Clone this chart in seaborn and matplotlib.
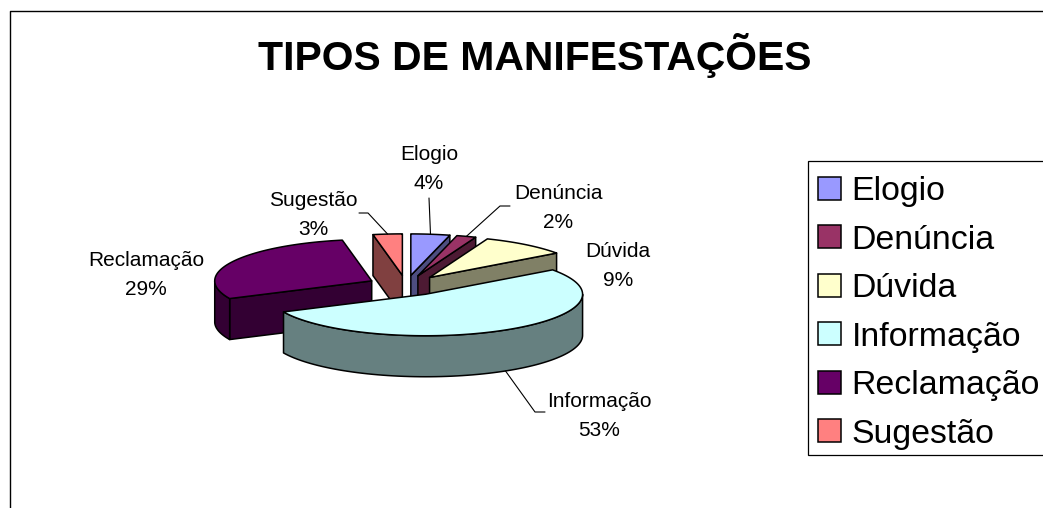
import numpy as np
import matplotlib
matplotlib.use('Agg')
import matplotlib.pyplot as plt
from matplotlib.patches import Patch, Rectangle
import seaborn as sns

# dados do grafico
categorias = ['Elogio', 'Denúncia', 'Dúvida', 'Informação', 'Reclamação', 'Sugestão']
valores = [4, 2, 9, 53, 29, 3]
cores = ['#9999FF', '#993366', '#FFFFCC', '#CCFFFF', '#660066', '#FF8080']
titulo = 'TIPOS DE MANIFESTAÇÕES'

sns.set_theme(style='white')
plt.rcParams['font.family'] = ['Liberation Sans', 'DejaVu Sans']
paleta = sns.color_palette(cores)
sombra = [tuple(c * 0.5 for c in cor) for cor in paleta]

# geometria da pizza em perspectiva (pixels da figura)
cx, cy = 406, 285.5
rx, ry = 157, 41.5
prof = 41
expl = 0.245

# posicao dos rotulos (centro de cada bloco de texto) e inicio da linha guia
pos_rotulo = [(429, 169), (558, 208), (618, 266), (599, 416), (146, 275), (313, 215)]
guia_ini = [(429, 198), (510, 206), None, (545, 412), None, (359, 213)]
guia_cot = [None, (500, 206), None, (535, 412), None, (368, 213)]

fig = plt.figure(figsize=(10.43, 5.08), dpi=100)
ax = fig.add_axes([0, 0, 1, 1])
ax.set_xlim(0, 1043)
ax.set_ylim(508, 0)
ax.axis('off')

# moldura
ax.plot([9.5, 9.5, 1043], [508, 10.5, 10.5], color='black', lw=1)


def ponto(ox, oy, ang):
    return ox + rx * np.sin(ang), oy - ry * np.cos(ang)


fatias = []
acum = np.cumsum([0] + valores) / sum(valores) * 2 * np.pi
for i in range(len(valores)):
    a0, a1 = acum[i], acum[i + 1]
    meio = (a0 + a1) / 2
    ox = cx + expl * rx * np.sin(meio)
    oy = cy - expl * ry * np.cos(meio)
    fatias.append((oy, i, a0, a1, meio, ox))

# desenha de tras para frente
for oy, i, a0, a1, meio, ox in sorted(fatias):
    # faces de corte visiveis
    for ang, visivel in [(a0, np.sin(a0) < -1e-6), (a1, np.sin(a1) > 1e-6)]:
        if visivel:
            xr, yr = ponto(ox, oy, ang)
            ax.fill([ox, xr, xr, ox], [oy, yr, yr + prof, oy + prof],
                    facecolor=sombra[i], edgecolor='black', lw=1.1, joinstyle='round')
    # parede externa
    p0, p1 = max(a0, np.pi / 2), min(a1, 3 * np.pi / 2)
    if p1 > p0:
        t = np.linspace(p0, p1, 80)
        xa, ya = ponto(ox, oy, t)
        ax.fill(np.r_[xa, xa[::-1]], np.r_[ya, ya[::-1] + prof],
                facecolor=sombra[i], edgecolor='black', lw=1.1, joinstyle='round')
    # topo
    t = np.linspace(a0, a1, 120)
    xa, ya = ponto(ox, oy, t)
    ax.fill(np.r_[ox, xa], np.r_[oy, ya], facecolor=paleta[i], edgecolor='black',
            lw=1.1, joinstyle='round')

# rotulos e linhas guia
for oy, i, a0, a1, meio, ox in fatias:
    xr, yr = pos_rotulo[i]
    ax.text(xr, yr, f'{categorias[i]}\n{valores[i]}%', ha='center', va='center',
            fontsize=15, color='black', linespacing=1.7)
    if guia_ini[i] is not None:
        xf, yf = ponto(ox, oy, meio)
        if np.cos(meio) < 0:
            yf += prof
        xs = [guia_ini[i][0]]
        ys = [guia_ini[i][1]]
        if guia_cot[i] is not None:
            xs.append(guia_cot[i][0])
            ys.append(guia_cot[i][1])
        ax.plot(xs + [xf], ys + [yf], color='black', lw=0.8)

ax.text(534.5, 55.5, titulo, ha='center', va='center', fontsize=29.4, fontweight='bold',
        color='black')

# legenda (caixa desenhada a parte, passa da borda direita)
ax.add_patch(Rectangle((807.5, 160.5), 260, 294.5, facecolor='white', edgecolor='black',
                       lw=0.9, zorder=4))
alcas = [Patch(facecolor=c, edgecolor='black', lw=1.1) for c in paleta]
leg = ax.legend(alcas, categorias, loc='upper left', bbox_to_anchor=(807.5, 165.5),
                bbox_transform=ax.transData, fontsize=24.4, frameon=False,
                borderaxespad=0, borderpad=0.32, labelcolor='black',
                handlelength=0.66, handleheight=0.66, handletextpad=0.32, labelspacing=0.515)
leg.set_zorder(5)

fig.savefig('out.png', dpi=100, facecolor='white')
